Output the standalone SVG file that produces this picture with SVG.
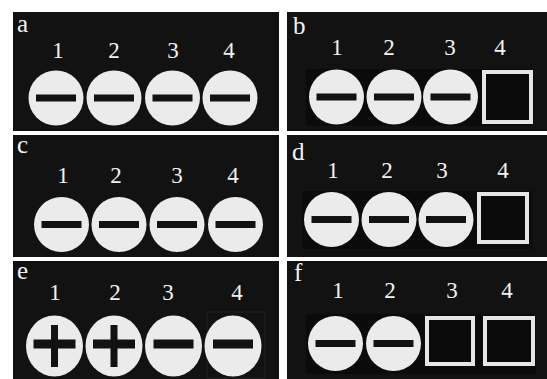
<svg xmlns="http://www.w3.org/2000/svg" xmlns:xlink="http://www.w3.org/1999/xlink" width="547" height="379" viewBox="0 0 547 379">
<style>
.bg{fill:#121212}
.lbl{font-family:"Liberation Serif","Times New Roman",serif;font-size:25px;fill:#f2f2f2}
.num{font-family:"Liberation Serif","Times New Roman",serif;font-size:23px;fill:#f2f2f2;text-anchor:middle}
.disc{fill:#ebebeb}
.bar{fill:#121212}
.sq{fill:none;stroke:#e6e6e6;stroke-width:4}
.ghost{fill:#0b0b0b}
</style>
<defs>
<g id="minus"><circle class="disc" r="27.5"/><rect class="bar" x="-20" y="-3.5" width="40" height="7"/></g>
<g id="minusTall"><ellipse class="disc" rx="28.5" ry="30.5"/><rect class="bar" x="-20" y="-4.5" width="40" height="9" transform="translate(0,-2)"/></g>
<g id="plusTall"><ellipse class="disc" rx="28.5" ry="30.5"/><rect class="bar" x="-21" y="-6.5" width="42" height="9"/><rect class="bar" x="-3.5" y="-21" width="7" height="42"/></g>
</defs>
<rect width="547" height="379" fill="#ffffff"/>

<g id="panel-a">
<rect class="bg" x="13" y="12" width="266" height="119"/>
<text class="lbl" x="17" y="32">a</text>
<text class="num" x="58" y="58">1</text>
<text class="num" x="114" y="58">2</text>
<text class="num" x="173" y="58">3</text>
<text class="num" x="229" y="58">4</text>
<use xlink:href="#minus" x="56" y="98"/>
<use xlink:href="#minus" x="114" y="98"/>
<use xlink:href="#minus" x="172.5" y="98"/>
<use xlink:href="#minus" x="230" y="98"/>
</g>

<g id="panel-b">
<rect class="bg" x="287" y="12" width="260" height="119"/>
<rect class="ghost" x="306" y="69" width="228" height="57"/>
<text class="lbl" x="293" y="34">b</text>
<text class="num" x="337" y="55">1</text>
<text class="num" x="389" y="55">2</text>
<text class="num" x="450" y="55">3</text>
<text class="num" x="500" y="55">4</text>
<use xlink:href="#minus" x="336.5" y="97"/>
<use xlink:href="#minus" x="394" y="97"/>
<use xlink:href="#minus" x="450.5" y="97"/>
<rect class="sq" x="484" y="72" width="47" height="50"/>
</g>

<g id="panel-c">
<rect class="bg" x="13" y="135" width="266" height="122"/>
<text class="lbl" x="17" y="153">c</text>
<text class="num" x="63" y="183">1</text>
<text class="num" x="116" y="183">2</text>
<text class="num" x="177" y="183">3</text>
<text class="num" x="233" y="183">4</text>
<use xlink:href="#minus" x="61.5" y="224.5"/>
<use xlink:href="#minus" x="119" y="224.5"/>
<use xlink:href="#minus" x="177" y="224.5"/>
<use xlink:href="#minus" x="235.5" y="224.5"/>
</g>

<g id="panel-d">
<rect class="bg" x="287" y="135" width="260" height="122"/>
<rect class="ghost" x="302" y="191" width="230" height="58"/>
<text class="lbl" x="292" y="160">d</text>
<text class="num" x="333" y="178">1</text>
<text class="num" x="387" y="178">2</text>
<text class="num" x="442" y="178">3</text>
<text class="num" x="503" y="178">4</text>
<use xlink:href="#minus" x="331.5" y="219.5"/>
<use xlink:href="#minus" x="389" y="219.5"/>
<use xlink:href="#minus" x="446" y="219.5"/>
<rect class="sq" x="479" y="194" width="48" height="48"/>
</g>

<g id="panel-e">
<rect class="bg" x="13" y="261" width="266" height="118"/>
<rect x="207" y="312" width="58" height="66" fill="none" stroke="#1c1c1c" stroke-width="1.5"/>
<text class="lbl" x="17" y="279">e</text>
<text class="num" x="55" y="300">1</text>
<text class="num" x="115" y="300">2</text>
<text class="num" x="168" y="300">3</text>
<text class="num" x="237" y="300">4</text>
<use xlink:href="#plusTall" x="54.5" y="346"/>
<use xlink:href="#plusTall" x="114" y="346"/>
<use xlink:href="#minusTall" x="173.5" y="346"/>
<use xlink:href="#minusTall" x="233" y="346"/>
</g>

<g id="panel-f">
<rect class="bg" x="287" y="261" width="260" height="118"/>
<rect class="ghost" x="306" y="314" width="230" height="60"/>
<text class="lbl" x="294" y="281">f</text>
<text class="num" x="338" y="298">1</text>
<text class="num" x="390" y="298">2</text>
<text class="num" x="452" y="298">3</text>
<text class="num" x="507" y="298">4</text>
<use xlink:href="#minus" x="335.5" y="343.5"/>
<use xlink:href="#minus" x="393.5" y="343.5"/>
<rect class="sq" x="427" y="318" width="46" height="46"/>
<rect class="sq" x="485" y="318" width="48" height="46"/>
</g>
</svg>
